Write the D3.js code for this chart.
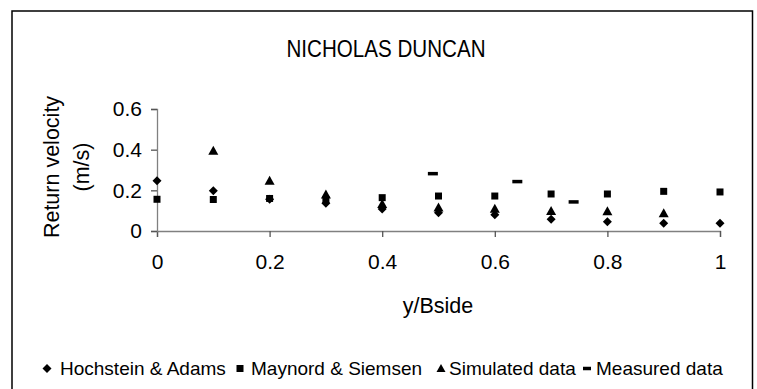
<!DOCTYPE html>
<html>
<head>
<meta charset="utf-8">
<script src="https://cdn.jsdelivr.net/npm/d3@7"></script>
<style>
  body { margin: 0; background: #fff; }
  text { font-family: Arial, "Liberation Sans", sans-serif; fill: #000; }
</style>
</head>
<body>
<div class="svg-container"></div>
<script>
// positions along the side, y/Bside
const xValues = [0, 0.1, 0.2, 0.3, 0.4, 0.5, 0.6, 0.7, 0.8, 0.9, 1]
const hochstein = [0.247, 0.198, 0.156, 0.136, 0.108, 0.09, 0.08, 0.058, 0.046, 0.038, 0.038]
const maynord = [0.156, 0.155, 0.16, 0.155, 0.164, 0.172, 0.172, 0.182, 0.182, 0.195, 0.192]
const simX = [0.1, 0.2, 0.3, 0.4, 0.5, 0.6, 0.7, 0.8, 0.9]
const simulated = [0.395, 0.247, 0.18, 0.133, 0.115, 0.11, 0.098, 0.097, 0.087]
const measX = [0.49, 0.64, 0.74]
const measured = [0.282, 0.243, 0.143]
const xTicks = [0, 0.2, 0.4, 0.6, 0.8, 1]
const yTicks = [0, 0.2, 0.4, 0.6]
const legendLabels = ['Hochstein & Adams', 'Maynord & Siemsen', 'Simulated data', 'Measured data']

const width = 757, height = 389

const svg = d3.select('.svg-container').append('svg')
  .attr('width', width)
  .attr('height', height)

// outer chart frame (bottom edge runs off the picture)
svg.append('path')
  .attr('d', 'M12,395 V11 H752.5 V395')
  .attr('fill', 'none')
  .attr('stroke', '#000')
  .attr('stroke-width', 1.5)

const x = d3.scaleLinear().domain([0, 1]).range([157, 720])
const y = d3.scaleLinear().domain([0, 0.6]).range([231, 109])

const xAxis = svg.append('g')
  .attr('transform', `translate(0,${y(0)})`)
  .call(d3.axisBottom(x).tickValues(xTicks).tickFormat(d3.format('')).tickSize(6).tickPadding(17))
const yAxis = svg.append('g')
  .attr('transform', `translate(${x(0)},0)`)
  .call(d3.axisLeft(y).tickValues(yTicks).tickFormat(d3.format('')).tickSize(6).tickPadding(9))

;[xAxis, yAxis].forEach(g => {
  g.select('.domain').attr('stroke', '#808080').attr('stroke-width', 1.3)
  g.selectAll('.tick line').attr('stroke', '#555').attr('stroke-width', 1.3)
  g.selectAll('.tick text').style('font-size', '21px').attr('fill', '#000')
})

// title is set narrow and tall in the original
svg.append('text')
  .attr('x', 386).attr('y', 57)
  .attr('text-anchor', 'middle')
  .attr('textLength', 199)
  .attr('lengthAdjust', 'spacingAndGlyphs')
  .style('font-size', '24px')
  .text('NICHOLAS DUNCAN')

svg.append('text')
  .attr('x', 438).attr('y', 313)
  .attr('text-anchor', 'middle')
  .style('font-size', '21.5px')
  .text('y/Bside')

const yLab = svg.append('text')
  .attr('transform', 'translate(0,167) rotate(-90)')
  .attr('text-anchor', 'middle')
  .style('font-size', '21.5px')
yLab.append('tspan').attr('x', 0).attr('y', 59).text('Return velocity')
yLab.append('tspan').attr('x', 0).attr('y', 89).text('(m/s)')

// diamond drawn as a square turned 45 degrees (equal width and height)
const diamondPath = r => `M0,${-r}L${r},0L0,${r}L${-r},0Z`
const squarePath = s => `M${-s / 2},${-s / 2}h${s}v${s}h${-s}Z`
const trianglePath = s => `M0,${-s * 0.5}L${s / 2},${s * 0.4}L${-s / 2},${s * 0.4}Z`

function drawSymbols(xs, ys, pathStr) {
  svg.append('g').selectAll('path')
    .data(xs.map((d, i) => [d, ys[i]]))
    .enter()
    .append('path')
    .attr('transform', d => `translate(${x(d[0])},${y(d[1])})`)
    .attr('d', pathStr)
    .attr('fill', '#000')
}

drawSymbols(xValues, hochstein, diamondPath(4.5))
drawSymbols(xValues, maynord, squarePath(7))
drawSymbols(simX, simulated, trianglePath(10))

svg.append('g').selectAll('rect')
  .data(measX.map((d, i) => [d, measured[i]]))
  .enter()
  .append('rect')
  .attr('x', d => x(d[0]) - 5)
  .attr('y', d => y(d[1]) - 1.75)
  .attr('width', 10)
  .attr('height', 3.5)
  .attr('fill', '#000')

// legend
const legendX = [47, 240, 441, 587]
const legendText = [60, 251, 449, 596]
const legendSyms = [diamondPath(4.5), squarePath(7), trianglePath(9), 'M-4,-1.75h8v3.5h-8Z']
const legend = svg.append('g')
legendLabels.forEach((lab, i) => {
  legend.append('path')
    .attr('transform', `translate(${legendX[i]},368.5)`)
    .attr('d', legendSyms[i])
    .attr('fill', '#000')
  legend.append('text')
    .attr('x', legendText[i]).attr('y', 375)
    .style('font-size', '19px')
    .text(lab)
})
</script>
</body>
</html>
